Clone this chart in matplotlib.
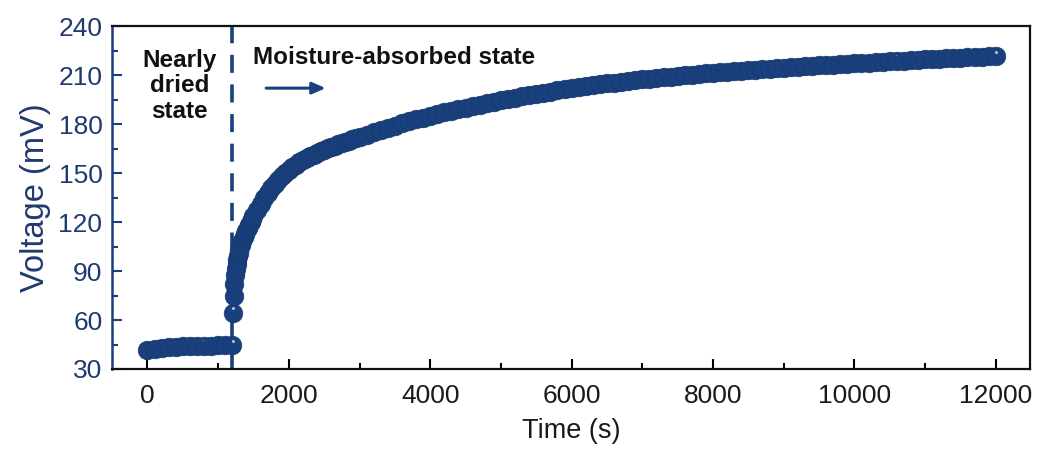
import numpy as np
import matplotlib
matplotlib.use("Agg")
import matplotlib.pyplot as plt
from matplotlib.ticker import MultipleLocator
from matplotlib.transforms import ScaledTranslation

plt.rcParams['font.family'] = ['Liberation Sans', 'DejaVu Sans']

# ----------------------------
# data: voltage vs time
# ----------------------------
# dry stage
t_dry = [0, 100, 200, 300, 400, 500, 600, 700, 800, 900, 1000, 1100, 1200]
v_dry = [41.5, 42.4, 43.0, 43.4, 43.7, 43.9, 44.0, 44.1, 44.2, 44.3, 44.4, 44.4, 44.5]

# moisture uptake, fast part
t_fast = [1210, 1220, 1230, 1240, 1250, 1260, 1270, 1280, 1290, 1300,
          1320, 1340, 1360, 1380, 1400, 1420, 1440, 1460, 1480, 1500]
v_fast = [64.5, 74.5, 82.0, 87.5, 91.5, 94.5, 97.0, 99.2, 101.2, 103.0,
          106.0, 108.5, 110.7, 112.7, 114.6, 116.5, 118.4, 120.2, 121.9, 123.6]

# moisture uptake, slowing down
t_mid = [1550, 1600, 1650, 1700, 1750, 1800, 1850, 1900, 1950, 2000,
         2050, 2100, 2150, 2200, 2250, 2300, 2350, 2400, 2450, 2500,
         2550, 2600, 2650, 2700, 2750, 2800, 2850, 2900, 2950, 3000]
v_mid = [127.6, 131.3, 134.7, 137.8, 140.7, 143.4, 145.8, 148.0, 150.0, 151.9,
         153.6, 155.2, 156.7, 157.9, 159.1, 160.2, 161.3, 162.3, 163.3, 164.2,
         165.1, 166.0, 166.8, 167.6, 168.4, 169.2, 169.9, 170.6, 171.3, 172.0]

# moisture uptake, near saturation
t_slow = [3100, 3200, 3300, 3400, 3500, 3600, 3700, 3800, 3900, 4000,
          4100, 4200, 4300, 4400, 4500, 4600, 4700, 4800, 4900, 5000,
          5100, 5200, 5300, 5400, 5500, 5600, 5700, 5800, 5900, 6000,
          6100, 6200, 6300, 6400, 6500, 6600, 6700, 6800, 6900, 7000,
          7100, 7200, 7300, 7400, 7500, 7600, 7700, 7800, 7900, 8000,
          8100, 8200, 8300, 8400, 8500, 8600, 8700, 8800, 8900, 9000,
          9100, 9200, 9300, 9400, 9500, 9600, 9700, 9800, 9900, 10000,
          10100, 10200, 10300, 10400, 10500, 10600, 10700, 10800, 10900, 11000,
          11100, 11200, 11300, 11400, 11500, 11600, 11700, 11800, 11900, 12000]
v_slow = [173.5, 175.0, 176.4, 177.8, 179.1, 180.4, 181.6, 182.8, 184.0, 185.1,
          186.2, 187.2, 188.2, 189.2, 190.1, 191.0, 191.9, 192.8, 193.6, 194.5,
          195.3, 196.1, 196.9, 197.7, 198.5, 199.2, 199.9, 200.6, 201.3, 202.0,
          202.6, 203.2, 203.8, 204.4, 204.9, 205.4, 205.9, 206.4, 206.9, 207.4,
          207.8, 208.2, 208.6, 209.0, 209.4, 209.8, 210.2, 210.6, 211.0, 211.4,
          211.7, 212.0, 212.3, 212.6, 212.9, 213.2, 213.5, 213.8, 214.1, 214.4,
          214.7, 215.0, 215.3, 215.6, 215.9, 216.2, 216.4, 216.7, 216.9, 217.2,
          217.4, 217.7, 217.9, 218.2, 218.4, 218.7, 218.9, 219.2, 219.4, 219.6,
          219.8, 220.0, 220.2, 220.4, 220.6, 220.8, 221.0, 221.2, 221.4, 221.6]

t_switch = 1200  # time when humidity is switched on

time = np.array(t_dry + t_fast + t_mid + t_slow)
volt = np.array(v_dry + v_fast + v_mid + v_slow)

navy = '#193f7c'
navy_txt = '#1f3a6e'

fig = plt.figure(figsize=(10.38, 4.5), dpi=100)
ax = fig.add_axes([0.108, 0.18, 0.884, 0.762])

# dashed separator between the two states
ax.axvline(t_switch, color=navy, lw=2.6, ls=(0, (5, 3.2)), zorder=1)

# ball markers: dark disc + small light spot, drawn point by point
hl = ScaledTranslation(0.3 / 72, 3.2 / 72, fig.dpi_scale_trans)
for x, y in zip(time, volt):
    ax.plot(x, y, 'o', ms=13.5, mfc=navy, mec='#163868', mew=0.4, zorder=3)
    ax.plot(x, y, 'o', ms=2.2, mfc='#b3c1d9', mec='none', zorder=3,
            transform=ax.transData + hl)

ax.set_xlim(-500, 12480)
ax.set_ylim(30, 240)
ax.xaxis.set_major_locator(MultipleLocator(2000))
ax.xaxis.set_minor_locator(MultipleLocator(1000))
ax.yaxis.set_major_locator(MultipleLocator(30))
ax.yaxis.set_minor_locator(MultipleLocator(15))

ax.tick_params(axis='both', which='both', direction='in', top=False, right=False)
ax.tick_params(axis='x', which='major', length=7, width=1.5, labelsize=19,
               pad=11, labelcolor='#1a1a1a')
ax.tick_params(axis='x', which='minor', length=4, width=1.5)
ax.tick_params(axis='y', which='major', length=7, width=1.5, labelsize=19,
               pad=7, color=navy, labelcolor=navy_txt)
ax.tick_params(axis='y', which='minor', length=4, width=1.5, color=navy)

for side in ['top', 'right', 'bottom']:
    ax.spines[side].set_linewidth(1.6)
    ax.spines[side].set_color('#111111')
ax.spines['left'].set_linewidth(1.8)
ax.spines['left'].set_color(navy)

ax.set_xlabel('Time (s)', fontsize=19.5, color='#1a1a1a', labelpad=7)
ax.set_ylabel('Voltage (mV)', fontsize=23.5, color=navy_txt, labelpad=5)

# state labels
ax.text(452, 203.5, 'Nearly\ndried\nstate', ha='center', va='center',
        fontsize=17.5, fontweight='bold', linespacing=1.13, color='#111111')
ax.text(1498, 220.5, 'Moisture-absorbed state', ha='left', va='center',
        fontsize=17.5, fontweight='bold', color='#111111')
ax.annotate('', xy=(2560, 202), xytext=(1640, 202),
            arrowprops=dict(arrowstyle='-|>,head_length=0.8,head_width=0.35',
                            color=navy, lw=2.2))

fig.savefig('out.png', dpi=100)
